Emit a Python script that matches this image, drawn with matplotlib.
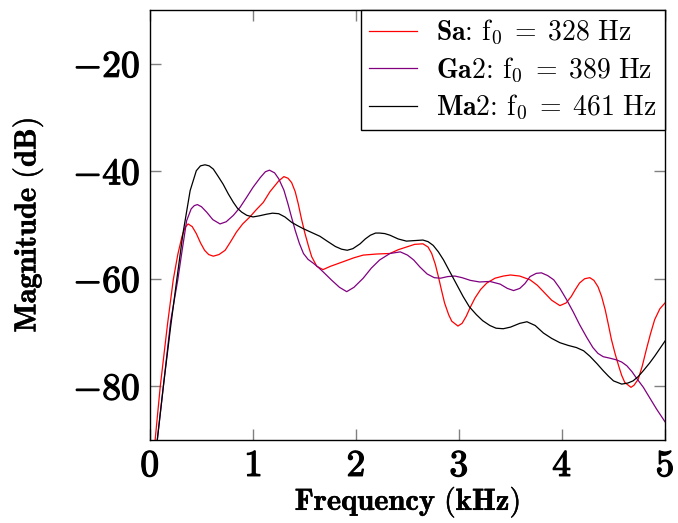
import matplotlib
matplotlib.use('Agg')
import matplotlib.pyplot as plt
import matplotlib.patheffects as pe

plt.rcParams['font.family'] = 'cmr10'
plt.rcParams['mathtext.fontset'] = 'cm'
plt.rcParams['axes.formatter.use_mathtext'] = True

# Sa, f0 = 328 Hz
f_sa = [0.0, 0.10, 0.17, 0.226, 0.27, 0.31, 0.34, 0.37, 0.41, 0.45, 0.49, 0.53, 0.57, 0.615,
        0.67, 0.73, 0.78, 0.84, 0.90, 0.97, 1.03, 1.10, 1.165, 1.25, 1.30, 1.34, 1.375, 1.41,
        1.44, 1.47, 1.505, 1.54, 1.57, 1.62, 1.68, 1.75, 1.88, 1.98, 2.07, 2.20, 2.33, 2.41,
        2.49, 2.57, 2.65, 2.70, 2.735, 2.77, 2.80, 2.83, 2.86, 2.90, 2.93, 2.99, 3.03, 3.07,
        3.11, 3.155, 3.21, 3.27, 3.35, 3.43, 3.50, 3.59, 3.69, 3.76, 3.82, 3.90, 3.98, 4.04,
        4.09, 4.13, 4.17, 4.22, 4.27, 4.31, 4.35, 4.385, 4.42, 4.45, 4.48, 4.515, 4.55, 4.58,
        4.61, 4.67, 4.70, 4.74, 4.78, 4.82, 4.86, 4.90, 4.95, 5.0]
db_sa = [-100, -80, -68.5, -60.2, -55.5, -52.2, -50.5, -49.8, -50.3, -51.6, -53.3, -54.7, -55.5, -55.8,
         -55.5, -54.7, -53.2, -51.3, -49.8, -48.5, -47.2, -45.8, -43.8, -41.8, -41.0, -41.3, -42.1, -43.8,
         -46.1, -48.8, -51.6, -54.0, -55.9, -57.7, -58.3, -57.7, -56.8, -56.1, -55.6, -55.4, -55.3, -54.6,
         -54.1, -53.6, -53.5, -54.1, -55.3, -57.3, -59.6, -62.1, -64.5, -66.7, -67.9, -68.8, -68.3, -67.0,
         -65.3, -63.6, -62.0, -60.8, -59.9, -59.5, -59.3, -59.5, -60.2, -61.2, -62.4, -64.0, -65.0, -64.5,
         -63.3, -62.0, -60.8, -60.0, -59.8, -60.3, -61.5, -63.3, -65.8, -68.5, -71.3, -73.9, -76.2, -78.0,
         -79.3, -80.2, -79.8, -78.7, -76.2, -73.1, -70.2, -67.6, -65.6, -64.5]

# Ga2, f0 = 389 Hz
f_ga = [0.0, 0.13, 0.20, 0.27, 0.31, 0.356, 0.40, 0.43, 0.46, 0.50, 0.55, 0.61, 0.68, 0.74,
        0.81, 0.875, 0.94, 1.0, 1.07, 1.12, 1.16, 1.21, 1.25, 1.30, 1.34, 1.375, 1.41, 1.45,
        1.49, 1.535, 1.585, 1.63, 1.68, 1.76, 1.84, 1.91, 1.98, 2.07, 2.15, 2.23, 2.33, 2.43,
        2.50, 2.56, 2.62, 2.69, 2.76, 2.82, 2.89, 2.96, 3.03, 3.11, 3.20, 3.30, 3.40, 3.47,
        3.53, 3.59, 3.64, 3.69, 3.75, 3.80, 3.86, 3.92, 3.98, 4.045, 4.11, 4.17, 4.24, 4.30,
        4.35, 4.40, 4.47, 4.53, 4.58, 4.63, 4.68, 4.72, 4.79, 4.85, 4.92, 5.0]
db_ga = [-102, -80, -68, -60.2, -55, -49.2, -47.0, -46.4, -46.2, -46.6, -47.6, -49.0, -49.8, -49.4,
         -48.2, -46.7, -44.8, -43.0, -41.2, -40.1, -39.8, -40.3, -41.4, -43.5, -46.1, -48.6, -51.0, -53.4,
         -55.3, -56.4, -57.1, -57.8, -58.7, -60.2, -61.6, -62.4, -61.6, -59.9, -58.0, -56.5, -55.3, -55.0,
         -55.6, -56.5, -57.8, -59.1, -59.8, -59.9, -59.6, -59.5, -59.8, -60.3, -60.6, -60.5, -61.0, -61.8,
         -62.2, -61.8, -60.9, -59.6, -59.0, -58.9, -59.4, -60.2, -61.8, -63.9, -66.2, -68.5, -70.9, -72.8,
         -73.9, -74.5, -74.8, -75.1, -75.5, -76.2, -77.3, -78.4, -80.2, -82.1, -84.3, -86.6]

# Ma2, f0 = 461 Hz
f_ma = [0.0, 0.13, 0.20, 0.26, 0.32, 0.39, 0.45, 0.49, 0.534, 0.575, 0.615, 0.66, 0.71, 0.76,
        0.81, 0.85, 0.89, 0.94, 1.0, 1.06, 1.13, 1.19, 1.25, 1.31, 1.375, 1.43, 1.49, 1.57,
        1.65, 1.72, 1.80, 1.86, 1.915, 1.97, 2.04, 2.09, 2.14, 2.19, 2.23, 2.28, 2.33, 2.41,
        2.49, 2.57, 2.65, 2.70, 2.75, 2.80, 2.85, 2.90, 2.945, 3.04, 3.10, 3.17, 3.23, 3.30,
        3.36, 3.43, 3.50, 3.59, 3.66, 3.74, 3.82, 3.90, 3.98, 4.06, 4.14, 4.21, 4.27, 4.34,
        4.40, 4.45, 4.50, 4.58, 4.64, 4.69, 4.74, 4.79, 4.85, 4.90, 4.95, 5.0]
db_ma = [-102, -80, -69, -60.2, -51.6, -43.6, -39.9, -39.0, -38.8, -39.0, -39.6, -40.9, -42.4, -44.2,
         -45.8, -46.9, -47.6, -48.2, -48.5, -48.3, -48.0, -47.8, -47.9, -48.5, -49.5, -50.1, -50.7, -51.4,
         -52.1, -53.0, -54.0, -54.5, -54.7, -54.4, -53.5, -52.6, -51.9, -51.5, -51.5, -51.6, -51.9, -52.6,
         -53.0, -52.9, -52.8, -53.1, -53.8, -55.0, -56.5, -58.3, -59.9, -63.3, -65.2, -66.7, -67.8, -68.7,
         -69.2, -69.3, -69.0, -68.3, -68.0, -68.7, -70.1, -71.1, -71.9, -72.4, -72.8, -73.4, -74.4, -75.8,
         -77.1, -78.1, -79.0, -79.6, -79.4, -79.0, -78.2, -77.1, -75.7, -74.4, -73.0, -71.6]

labels = [r'$\mathbf{Sa}$: $\mathrm{f}_0\;=\;328\ \mathrm{Hz}$',
          r'$\mathbf{Ga2}$: $\mathrm{f}_0\;=\;389\ \mathrm{Hz}$',
          r'$\mathbf{Ma2}$: $\mathrm{f}_0\;=\;461\ \mathrm{Hz}$']
colors = ['#ff0000', '#800080', '#000000']

xticks = [0, 1, 2, 3, 4, 5]
yticks = [-80, -60, -40, -20]

fig = plt.figure(figsize=(6.78, 5.23), dpi=100)
ax = fig.add_axes([0.2212, 0.1587, 0.7596, 0.8222])

for f, d, lab, c in zip([f_sa, f_ga, f_ma], [db_sa, db_ga, db_ma], labels, colors):
    ax.plot(f, d, color=c, lw=0.9, label=lab)

ax.set_xlim(0, 5)
ax.set_ylim(-90, -10)
ax.set_xticks(xticks)
ax.set_xticklabels([r'$\mathbf{%d}$' % t for t in xticks])
ax.set_yticks(yticks)
ax.set_yticklabels([r'$\mathbf{-%d}$' % abs(t) for t in yticks])
ax.tick_params(direction='in', length=8, width=1, color='#808080',
               top=True, right=True, labelsize=27, pad=7)
for s in ax.spines.values():
    s.set_linewidth(1.0)

# thicken the bold glyphs a little (cmb10 is lighter than cmbx)
heavy = [pe.withStroke(linewidth=0.9, foreground='black')]
for t in ax.get_xticklabels() + ax.get_yticklabels():
    t.set_path_effects(heavy)

ax.set_xlabel(r'$\mathbf{Frequency\ (kHz)}$', fontsize=22, va='center')
ax.set_ylabel(r'$\mathbf{Magnitude\ (dB)}$', fontsize=22, va='center')
ax.xaxis.set_label_coords(0.5, -0.145)
ax.yaxis.set_label_coords(-0.237, 0.5)
ax.xaxis.label.set_path_effects([pe.withStroke(linewidth=0.3, foreground='black')])
ax.yaxis.label.set_path_effects([pe.withStroke(linewidth=0.3, foreground='black')])

leg = ax.legend(loc='upper right', fontsize=20, frameon=True, fancybox=False,
                edgecolor='black', framealpha=1, handlelength=1.7,
                borderaxespad=0.0, borderpad=0.3, labelspacing=0.3, handletextpad=0.7)
leg.get_frame().set_linewidth(1.0)

fig.savefig('out.png', dpi=100)
